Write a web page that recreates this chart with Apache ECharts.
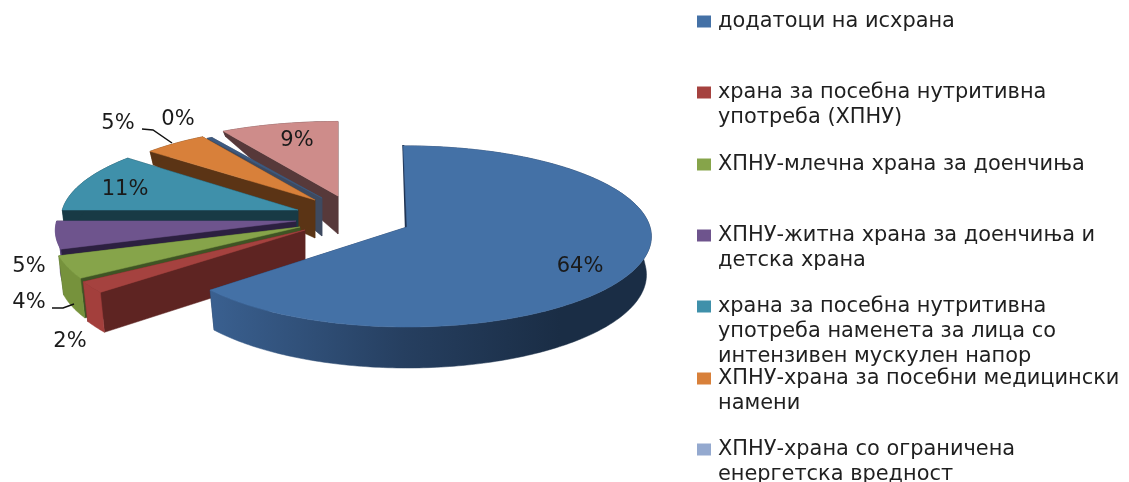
<!DOCTYPE html>
<html>
<head>
<meta charset="utf-8">
<style>html,body{margin:0;padding:0;background:#fff}#c{width:1129px;height:482px}</style>
<script src="https://cdn.jsdelivr.net/npm/echarts@6/dist/echarts.min.js"></script>
</head>
<body>
<div id="c"></div>
<script>
const categories = [
  'додатоци на исхрана',
  'храна за посебна нутритивна\nупотреба (ХПНУ)',
  'ХПНУ-млечна храна за доенчиња',
  'ХПНУ-житна храна за доенчиња и\nдетска храна',
  'храна за посебна нутритивна\nупотреба наменета за лица со\nинтензивен мускулен напор',
  'ХПНУ-храна за посебни медицински\nнамени',
  'ХПНУ-храна со ограничена\nенергетска вредност',
  'останато'
];
const values = [63.6, 2.4, 4, 5, 11, 5, 0.4, 8.6];
const topColors  = ['#4471a6','#a5423f','#86a44a','#6e548d','#3f90aa','#d8803a','#3d5a80','#ce8c8a'];
const legendColors = ['#4471a6','#a5423f','#86a44a','#6e548d','#3f90aa','#d8803a','#94a9cf','#ce8c8a'];
const rimColors  = ['#2c4a70','#a33f3c','#76923c','#5c4580','#183a45','#5b3415','#3e4a60','#57393a'];
const wallColors = ['#1f3352','#5e2422','#3f5424','#2c2040','#183a45','#5b3415','#3e4a60','#57393a'];

// exploded-slice placement: apex of each slice, radius scales, and small angular trims
const apexes = [[407,227],[305,230],[300,227],[296,221],[298,210],[315,200],[322,198],[338,196]];
const scaleX = [1,1.02,1.01,0.985,0.97,0.94,0.96,1.0];
const scaleY = [1,1.02,1.01,0.985,0.97,0.91,0.86,0.92];
const trimStart = [-0.017,0.025,0,0,0,0,0,0];
// data-label anchors, leader lines, legend rows
const labelAt = [[580,267],[70,342],[29,303],[29,267],[125,190],[118,124],[178,120],[297,141]];
const leaders = {2:[[52,308],[63,308],[74,304]],5:[[142,129],[153,130],[172,143]]};
const legendY = [20,91,163,234,305,377,448];

const RX = 243, RY = 89.5, K = 0.105, DEPTH = 38, LH = 25;
const total = values.reduce((a,b)=>a+b,0);
let acc = 0;
const spans = values.map((v,i)=>{const s=acc/total*2*Math.PI+trimStart[i]; acc+=v; return [s,acc/total*2*Math.PI];});

function depth(v){return v>0?DEPTH*(1-v):DEPTH-3*v;}
function proj(i,t,theta,bottom){
  const u=t*Math.sin(theta), v=t*Math.cos(theta), w=1+K*v;
  let x=RX*scaleX[i]*u/w, y=-RY*scaleY[i]*v/w;
  if(bottom){x*=0.98; y+=depth(v);}
  return [apexes[i][0]+x, apexes[i][1]+y];
}
function arc(i,a,b,bottom){
  const n=Math.max(2,Math.ceil(Math.abs(b-a)*60)),p=[];
  for(let k=0;k<=n;k++)p.push(proj(i,1,a+(b-a)*k/n,bottom));
  return p;
}
function renderSlice(i){
  return function(params,api){
    const [a,b]=spans[i], kids=[];
    const poly=(pts,fill,sw)=>kids.push({type:'polygon',shape:{points:pts},style:{fill:fill,stroke:sw?fill:null,lineWidth:sw||0}});
    // cut walls
    poly([proj(i,0,b),proj(i,1,b),proj(i,1,b,true),proj(i,0,b,true)],wallColors[i],.5);
    poly([proj(i,0,a),proj(i,1,a),proj(i,1,a,true),proj(i,0,a,true)],wallColors[i],i===0?2:.5);
    // outer rim
    const rimFill = i===0 ? {type:'linear',x:210,y:0,x2:560,y2:0,global:true,colorStops:[
      {offset:0,color:'#3a6090'},{offset:.55,color:'#263f60'},{offset:1,color:'#1a2d45'}]} : rimColors[i];
    poly(arc(i,a,b).concat(arc(i,b,a,true)),rimFill,.5);
    // top face
    poly([proj(i,0,a)].concat(arc(i,a,b)),topColors[i],.5);
    return {type:'group',children:kids};
  };
}
function renderLabels(){
  const kids=[];
  values.forEach((v,i)=>{
    kids.push({type:'text',style:{text:Math.round(v)+'%',x:labelAt[i][0],y:labelAt[i][1],
      align:'center',verticalAlign:'middle',fill:'#1a1a1a',font:'21px "DejaVu Sans"'}});
  });
  Object.values(leaders).forEach(p=>kids.push({type:'polyline',shape:{points:p},style:{stroke:'#111',lineWidth:1.5,fill:null}}));
  return {type:'group',children:kids};
}
const drawOrder=[7,6,5,4,3,2,1,0];
const series=drawOrder.map((i,z)=>({
  name:categories[i],type:'custom',coordinateSystem:'none',z:2+z,silent:true,
  itemStyle:{color:legendColors[i]},data:[[values[i]]],renderItem:renderSlice(i),animation:false
}));
series.push({name:'labels',type:'custom',coordinateSystem:'none',z:20,silent:true,data:[[0]],renderItem:renderLabels,animation:false});

const legends=legendY.map((y,i)=>{
  const n=categories[i].split('\n').length;
  return {
    left:697, top:y-((2*n-1)*LH)/2, orient:'vertical', selectedMode:false, padding:0,
    data:[categories[i]], icon:'rect', itemWidth:14, itemHeight:12, itemGap:0,
    formatter:s=>'\n'.repeat(n-1)+s,
    textStyle:{fontFamily:'DejaVu Sans',fontSize:20.9,color:'#1f1f1f',lineHeight:LH,padding:[3,0,0,2]}
  };
});
const chart=echarts.init(document.getElementById('c'),null,{renderer:'canvas'});
chart.setOption({animation:false,backgroundColor:'#fff',legend:legends,series:series});
</script>
</body>
</html>
